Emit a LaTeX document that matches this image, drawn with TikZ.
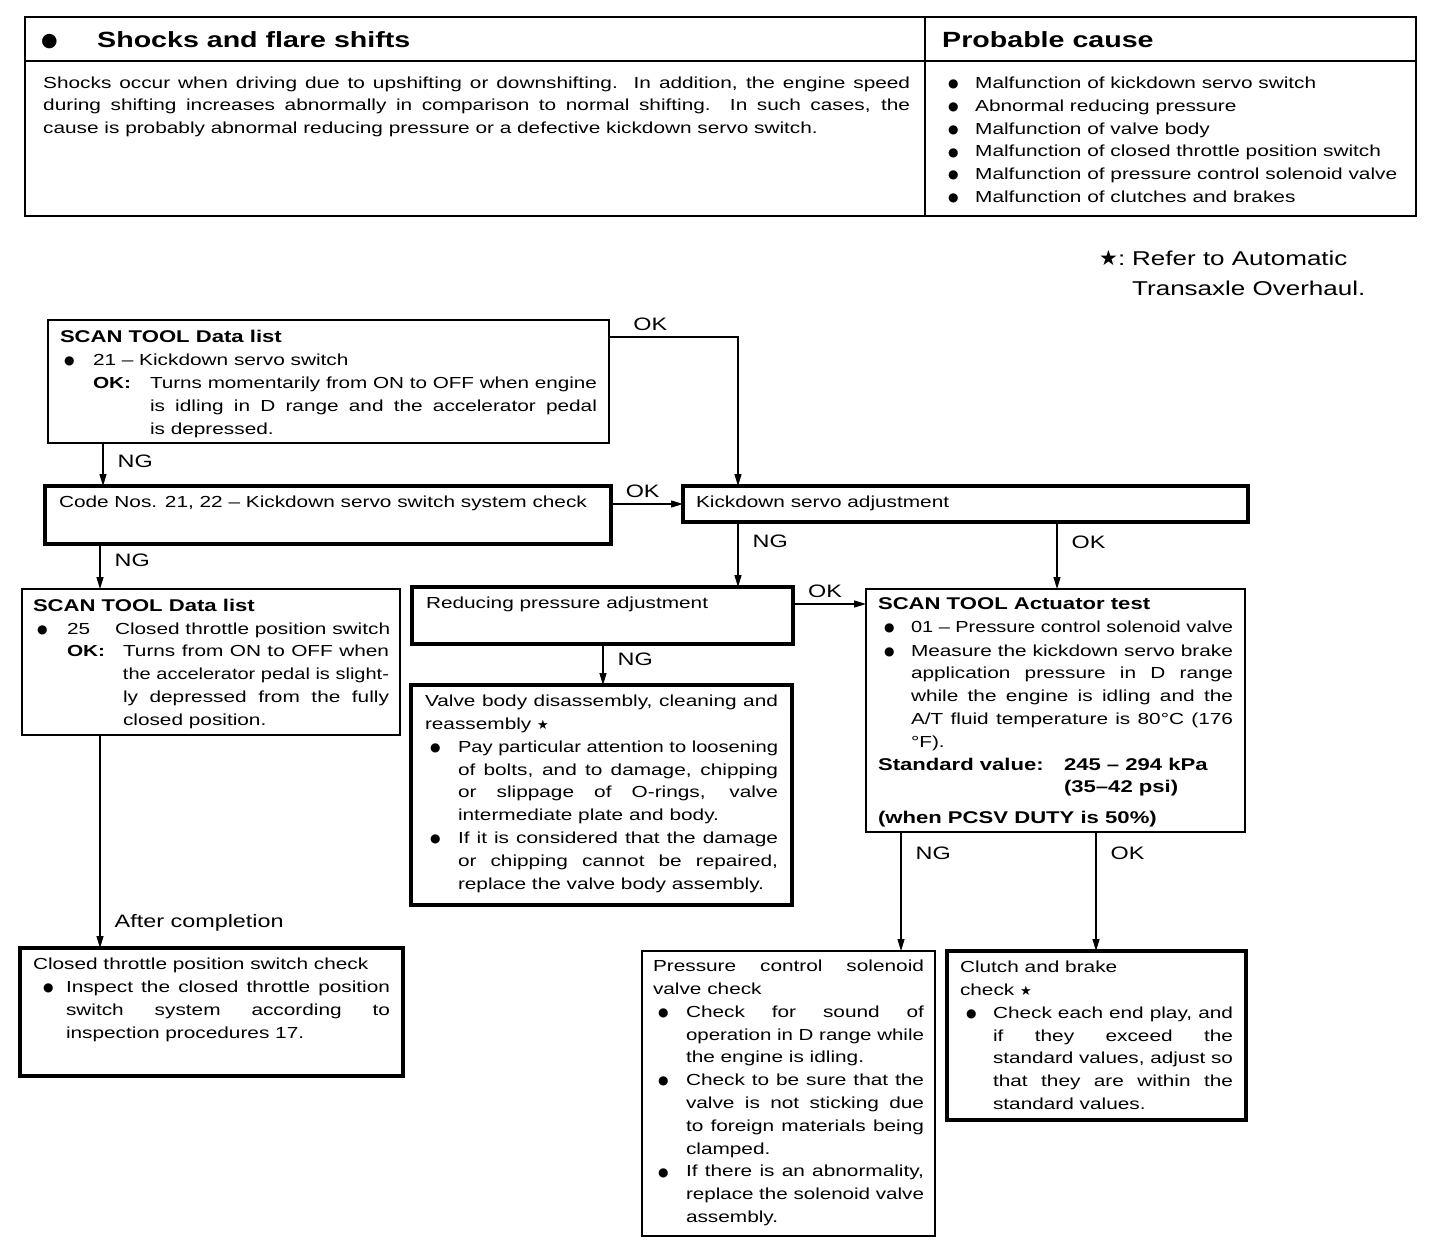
\documentclass[tikz,border=0pt]{standalone}
\usepackage{fontspec}
\setmainfont{Liberation Sans}[FakeStretch=1.3]
\newfontfamily\symfont{DejaVu Sans}
\usepackage{graphicx}
\usetikzlibrary{arrows.meta}

\newcommand\fs{\fontsize{16}{22.8}\selectfont}
\newcommand\lf{\fontsize{18}{20}\selectfont}
\newcommand\hf{\fontsize{22}{26}\selectfont\bfseries}
\newcommand\nf{\fontsize{20}{30}\selectfont}
\newcommand\hd[1]{{\fontsize{17}{22.8}\selectfont\bfseries #1}}
\newcommand\bul{\raisebox{0.8pt}{\symfont\fontsize{12}{12}\selectfont ●}}
\newcommand\smstar{{\symfont\fontsize{13}{13}\selectfont ★}}

\newsavebox\lnbox
\def\lastdp{0pt}
% justified line, squeezed when too long
\newcommand\jl[1]{\sbox\lnbox{#1}\ifdim\wd\lnbox>\linewidth\resizebox{\linewidth}{\height}{#1}\else\makebox[\linewidth][s]{#1}\fi\par}
% ragged line, squeezed when too long
\newcommand\rl[1]{\sbox\lnbox{#1}\ifdim\wd\lnbox>\linewidth\resizebox{\linewidth}{\height}{#1}\else\usebox\lnbox\fi\par}
% hanging block: indent, mark, mark width, lines
\newcommand\hang[4]{\noindent\hspace*{#1}\makebox[#3][l]{#2}\parbox[t]{\dimexpr\linewidth-#1-#3\relax}{#4\par\xdef\lastdp{\the\prevdepth}}\par\prevdepth=\lastdp\relax}
\newcommand\bitem[3]{\hang{#1}{\bul}{#2}{#3}}
\newcommand\okitem[3]{\hang{#1}{\textbf{OK:}}{#2}{#3}}
\newcommand\boxtext[3]{\parbox[c][#2][t]{#1}{\fs #3}}

\begin{document}
\begin{tikzpicture}[x=1pt,y=-1pt,
  thinbox/.style={draw,line width=1.5pt,anchor=north west,outer sep=0pt,inner xsep=11pt,inner ysep=10pt},
  thickbox/.style={thinbox,line width=3.5pt},
  flow/.style={line width=1.3pt,-{Triangle[length=12pt,width=7pt]}},
  vlab/.style={font=\lf,anchor=west,inner sep=0pt,xshift=14pt},
  hlab/.style={font=\lf,anchor=south,inner sep=0pt,yshift=6pt}]

  \useasboundingbox (0,0) rectangle (1456,1256);

  % symptom table
  \draw[line width=2.4pt] (25,17) rectangle (1416,216);
  \draw[line width=2pt] (25,61) -- (1416,61);
  \draw[line width=2pt] (925,17) -- (925,216);

  \node[anchor=base west,inner sep=0pt] (dot) at (41,46) {\symfont\fontsize{19}{19}\selectfont ●};
  \node[anchor=base west,inner sep=0pt,font=\hf] (title) at (97,47) {Shocks and flare shifts};
  \node[anchor=base west,inner sep=0pt,font=\hf] (cause) at (942,47) {Probable cause};

  \node[anchor=base west,inner sep=0pt] (symptom) at (43,88) {\parbox[t]{867pt}{\fs
    \jl{Shocks occur when driving due to upshifting or downshifting.\ \ In addition, the engine speed}
    \jl{during shifting increases abnormally in comparison to normal shifting.\ \ In such cases, the}
    cause is probably abnormal reducing pressure or a defective kickdown servo switch.}};

  \node[anchor=base west,inner sep=0pt] (causes) at (948,88) {\parbox[t]{453pt}{\fs
    \bitem{0pt}{27pt}{\rl{Malfunction of kickdown servo switch}}
    \bitem{0pt}{27pt}{\rl{Abnormal reducing pressure}}
    \bitem{0pt}{27pt}{\rl{Malfunction of valve body}}
    \bitem{0pt}{27pt}{\rl{Malfunction of closed throttle position switch}}
    \bitem{0pt}{27pt}{\rl{Malfunction of pressure control solenoid valve}}
    \bitem{0pt}{27pt}{\rl{Malfunction of clutches and brakes}}}};

  \node[anchor=base west,inner sep=0pt] (note) at (1099,265) {\parbox[t]{330pt}{\nf
    \makebox[33pt][l]{{\symfont\fontsize{21}{21}\selectfont ★}:}Refer to Automatic\par
    \hspace*{33pt}Transaxle Overhaul.}};

  % flow boxes
  \node[thinbox,inner xsep=12pt] (scanA) at (48,320) {\boxtext{537pt}{103pt}{%
    \hd{SCAN TOOL Data list}\par
    \bitem{4pt}{29pt}{21 -- Kickdown servo switch}
    \okitem{33pt}{57pt}{\jl{Turns momentarily from ON to OFF when engine}\jl{is idling in D range and the accelerator pedal}is depressed.}}};

  \node[thickbox,inner xsep=14pt] (codeA) at (45,486) {\boxtext{538pt}{38pt}{%
    \rl{Code Nos. 21, 22 -- Kickdown servo switch system check}}};

  \node[thickbox,inner xsep=13pt] (kickA) at (683,486) {\boxtext{539pt}{16pt}{Kickdown servo adjustment}};

  \node[thinbox] (scanB) at (22,589) {\boxtext{356pt}{126pt}{%
    \hd{SCAN TOOL Data list}\par
    \bitem{4pt}{30pt}{\makebox[48pt][l]{25}\rl{Closed throttle position switch}}
    \okitem{34pt}{56pt}{\jl{Turns from ON to OFF when}\jl{the accelerator pedal is slight-}\jl{ly depressed from the fully}closed position.}}};

  \node[thickbox,inner xsep=14pt] (reduceA) at (412,587) {\boxtext{353pt}{37pt}{Reducing pressure adjustment}};

  \node[thickbox,inner xsep=14pt] (valveA) at (411,685) {\boxtext{353pt}{200pt}{%
    \jl{Valve body disassembly, cleaning and}
    reassembly \smstar\par
    \bitem{5pt}{28pt}{\jl{Pay particular attention to loosening}\jl{of bolts, and to damage, chipping}\jl{or slippage of O-rings, valve}intermediate plate and body.}
    \bitem{5pt}{28pt}{\jl{If it is considered that the damage}\jl{or chipping cannot be repaired,}\rl{replace the valve body assembly.}}}};

  \node[thinbox,inner xsep=12pt,inner ysep=9pt] (actA) at (866,589) {\boxtext{355pt}{225pt}{%
    \hd{SCAN TOOL Actuator test}\par
    \bitem{6pt}{27pt}{\jl{01 -- Pressure control solenoid valve}}
    \bitem{6pt}{27pt}{\jl{Measure the kickdown servo brake}\jl{application pressure in D range}\jl{while the engine is idling and the}\jl{A/T fluid temperature is 80°C (176}°F).}
    \hang{0pt}{\hd{Standard value:}}{186pt}{\hd{245 -- 294 kPa}\par\hd{(35--42 psi)}}
    \vspace{8pt}\hd{(when PCSV DUTY is 50\%)}}};

  \node[thickbox,inner xsep=13pt] (ctpA) at (20,948) {\boxtext{357pt}{108pt}{%
    \rl{Closed throttle position switch check}
    \bitem{10pt}{23pt}{\jl{Inspect the closed throttle position}\jl{switch system according to}inspection procedures 17.}}};

  \node[thinbox,inner ysep=9pt] (pcsvA) at (642,951) {\boxtext{271pt}{267pt}{%
    \jl{Pressure control solenoid}
    valve check\par
    \bitem{5pt}{28pt}{\jl{Check for sound of}\jl{operation in D range while}the engine is idling.}
    \bitem{5pt}{28pt}{\jl{Check to be sure that the}\jl{valve is not sticking due}\jl{to foreign materials being}clamped.}
    \bitem{5pt}{28pt}{\jl{If there is an abnormality,}\jl{replace the solenoid valve}assembly.}}};

  \node[thickbox,inner xsep=13pt] (clutchA) at (947,951) {\boxtext{273pt}{149pt}{%
    Clutch and brake\par
    check \smstar\par
    \bitem{6pt}{27pt}{\jl{Check each end play, and}\jl{if they exceed the}\jl{standard values, adjust so}\jl{that they are within the}standard values.}}};

  % connectors
  \draw[flow] ([yshift=-17pt]scanA.north east) -| ([xshift=55pt]kickA.north west) node[hlab,pos=0.16] {OK};
  \draw[flow] ([xshift=55pt]scanA.south west) -- ([xshift=55pt]scanA.south west |- codeA.north) node[vlab,pos=0.42] {NG};
  \draw[flow] (codeA.east |- kickA.west) -- (kickA.west) node[hlab,pos=0.44] {OK};
  \draw[flow] ([xshift=55pt]codeA.south west) -- ([xshift=55pt]codeA.south west |- scanB.north) node[vlab,pos=0.36] {NG};
  \draw[flow] ([xshift=55pt]kickA.south west) -- ([xshift=55pt]kickA.south west |- reduceA.north) node[vlab,pos=0.3] {NG};
  \draw[flow] ([xshift=374pt]kickA.south west) -- ([xshift=374pt]kickA.south west |- actA.north) node[vlab,pos=0.3] {OK};
  \draw[flow] ([yshift=-17pt]reduceA.north east) -- ([yshift=-17pt]reduceA.north east -| actA.west) node[hlab,pos=0.44] {OK};
  \draw[flow] ([xshift=191pt]reduceA.south west) -- ([xshift=191pt]reduceA.south west |- valveA.north) node[vlab,pos=0.37] {NG};
  \draw[flow] ([xshift=78pt]scanB.south west) -- ([xshift=78pt]scanB.south west |- ctpA.north) node[vlab,pos=0.88] {After completion};
  \draw[flow] ([xshift=35pt]actA.south west) -- ([xshift=35pt]actA.south west |- pcsvA.north) node[vlab,pos=0.18] {NG};
  \draw[flow] ([xshift=230pt]actA.south west) -- ([xshift=230pt]actA.south west |- clutchA.north) node[vlab,pos=0.18] {OK};

\end{tikzpicture}
\end{document}
